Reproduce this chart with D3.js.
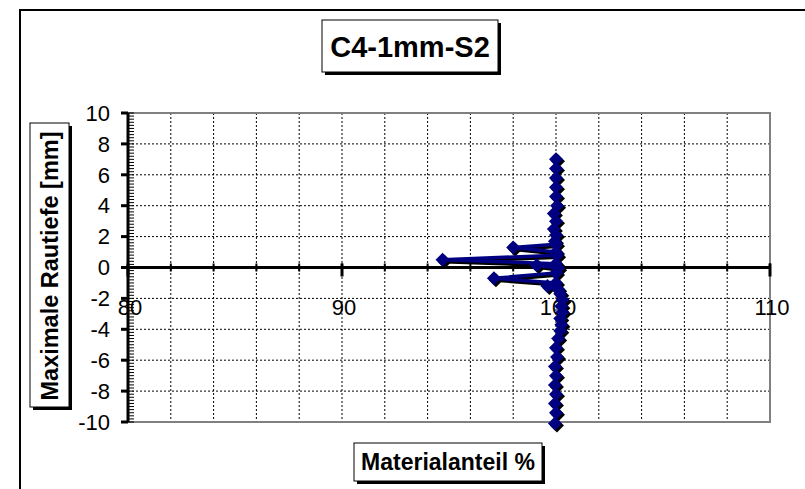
<!DOCTYPE html>
<html><head><meta charset="utf-8">
<script src="https://cdn.jsdelivr.net/npm/d3@7"></script>
<style>body{margin:0;background:#fff}svg{display:block}text{font-family:"Liberation Sans",Arial,sans-serif}</style>
</head><body>
<script>
const title = "C4-1mm-S2";
const xLabel = "Materialanteil %";
const yLabel = "Maximale Rautiefe [mm]";
const xTicks = [80, 90, 100, 110];
const yTicks = [-10, -8, -6, -4, -2, 0, 2, 4, 6, 8, 10];
const depth = [7.0, 6.4, 5.8, 5.2, 4.6, 4.0, 3.5, 3.0, 2.5, 2.1, 1.7, 1.5, 1.3, 1.0, 0.8, 0.5, 0.25, 0.15, -0.05, -0.35, -0.7, -1.0, -1.2, -1.4, -1.7, -2.1, -2.5, -2.9, -3.3, -3.7, -4.1, -4.6, -5.2, -5.8, -6.4, -7.0, -7.6, -8.2, -8.8, -9.4, -10.1];
const share = [100.0, 100.0, 100.0, 100.0, 100.0, 100.05, 99.9, 100.0, 99.9, 100.0, 99.95, 100.0, 98.0, 100.0, 100.05, 94.7, 100.0, 99.1, 100.1, 100.0, 97.1, 100.0, 99.6, 100.1, 100.2, 100.3, 100.25, 100.3, 100.2, 100.25, 100.2, 100.1, 100.0, 100.05, 99.95, 100.0, 99.95, 100.0, 99.95, 100.0, 99.95];

const W = 805, H = 489;
const svg = d3.select("body").append("svg").attr("width", W).attr("height", H);
const x = d3.scaleLinear().domain([80, 110]).range([128, 770]);
const y = d3.scaleLinear().domain([-10, 10]).range([422, 113]);

// outer chart border
svg.append("rect").attr("x", 20).attr("y", 10).attr("width", W + 20).attr("height", H + 20)
  .attr("fill", "#fff").attr("stroke", "#000").attr("stroke-width", 2);

// gridlines
const g = svg.append("g");
d3.range(-8, 10, 2).filter(v => v !== 0).forEach(v => {
  g.append("line").attr("x1", x(80)).attr("x2", x(110)).attr("y1", y(v)).attr("y2", y(v))
    .attr("stroke", "#000").attr("stroke-width", 1).attr("stroke-dasharray", "2,2");
});
d3.range(82, 110, 2).forEach(v => {
  g.append("line").attr("x1", x(v)).attr("x2", x(v)).attr("y1", y(10)).attr("y2", y(-10))
    .attr("stroke", "#000").attr("stroke-width", 1).attr("stroke-dasharray", "2,2");
});
// plot border
svg.append("rect").attr("x", x(80)).attr("y", y(10)).attr("width", x(110) - x(80)).attr("height", y(-10) - y(10))
  .attr("fill", "none").attr("stroke", "#808080").attr("stroke-width", 2);

// y axis
const ya = svg.append("g");
ya.append("line").attr("x1", x(80)).attr("x2", x(80)).attr("y1", y(10)).attr("y2", y(-10)).attr("stroke", "#000").attr("stroke-width", 3);
d3.range(-10, 10.001, 0.2).forEach(v => {
  ya.append("line").attr("x1", x(80)).attr("x2", x(80) + 6).attr("y1", y(v)).attr("y2", y(v)).attr("stroke", "#000").attr("stroke-width", 1);
});
yTicks.forEach(v => {
  ya.append("line").attr("x1", x(80) - 7).attr("x2", x(80)).attr("y1", y(v)).attr("y2", y(v)).attr("stroke", "#000").attr("stroke-width", 3);
  ya.append("text").attr("x", 110).attr("y", y(v)).attr("dy", "0.35em").attr("text-anchor", "end")
    .attr("font-size", 22).attr("fill", "#000").text(v);
});

// x axis at y=0
const xa = svg.append("g");
xa.append("line").attr("x1", x(80)).attr("x2", x(110)).attr("y1", y(0)).attr("y2", y(0)).attr("stroke", "#000").attr("stroke-width", 3);
d3.range(80, 110.001, 2).forEach(v => {
  xa.append("line").attr("x1", x(v)).attr("x2", x(v)).attr("y1", y(0) - 4).attr("y2", y(0) + 4).attr("stroke", "#000").attr("stroke-width", 2);
});
xTicks.forEach(v => {
  xa.append("line").attr("x1", x(v)).attr("x2", x(v)).attr("y1", y(0) - 4).attr("y2", y(0) + 9).attr("stroke", "#000").attr("stroke-width", 3);
  xa.append("text").attr("x", x(v) + 2).attr("y", 307).attr("dy", "0.35em").attr("text-anchor", "middle")
    .attr("font-size", 22).attr("fill", "#000").text(v);
});

// data series
const pts = depth.map((d, i) => [share[i], d]);
const line = d3.line().x(d => x(d[0])).y(d => y(d[1]));
const diamond = "M0,-7L7,0L0,7L-7,0Z";
// shadow
svg.append("path").attr("d", line(pts)).attr("transform", "translate(2,2)")
  .attr("fill", "none").attr("stroke", "#000").attr("stroke-width", 3.5).attr("stroke-linejoin", "round");
svg.append("g").selectAll("path").data(pts).join("path")
  .attr("d", diamond).attr("transform", d => `translate(${x(d[0]) + 2},${y(d[1]) + 2})`).attr("fill", "#000");
svg.append("path").attr("d", line(pts))
  .attr("fill", "none").attr("stroke", "#000080").attr("stroke-width", 3.5).attr("stroke-linejoin", "round");
svg.append("g").selectAll("path").data(pts).join("path")
  .attr("d", diamond).attr("transform", d => `translate(${x(d[0])},${y(d[1])})`).attr("fill", "#000080");

// text boxes with shadow
function box(x0, y0, w, h) {
  svg.append("rect").attr("x", x0 + 3).attr("y", y0 + 3).attr("width", w).attr("height", h).attr("fill", "#000");
  svg.append("rect").attr("x", x0).attr("y", y0).attr("width", w).attr("height", h).attr("fill", "#fff").attr("stroke", "#000").attr("stroke-width", 1);
}
box(322, 20, 176, 52);
svg.append("text").attr("x", 410).attr("y", 47).attr("dy", "0.35em").attr("text-anchor", "middle")
  .attr("font-size", 29).attr("font-weight", "bold").text(title);

box(354, 443, 188, 38);
svg.append("text").attr("x", 448).attr("y", 462).attr("dy", "0.35em").attr("text-anchor", "middle")
  .attr("font-size", 23).attr("font-weight", "bold").text(xLabel);

box(30, 123, 39, 284);
svg.append("text").attr("transform", "translate(50,266) rotate(-90)").attr("dy", "0.35em").attr("text-anchor", "middle")
  .attr("font-size", 23.5).attr("font-weight", "bold").text(yLabel);
</script>
</body></html>
